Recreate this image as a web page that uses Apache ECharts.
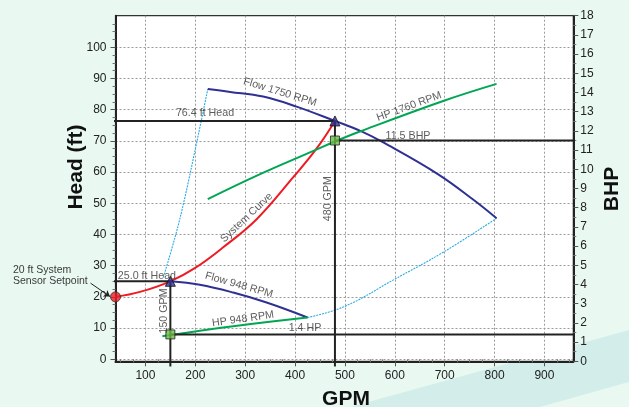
<!DOCTYPE html>
<html><head><meta charset="utf-8">
<script src="https://cdn.jsdelivr.net/npm/echarts@6/dist/echarts.min.js"></script>
<style>html,body{margin:0;padding:0;background:#e9f9f2;}#c{width:629px;height:407px;}</style>
</head><body><div id="c"></div>
<script>
// ---------- data ----------
const xTicks = [100,200,300,400,500,600,700,800,900];
const xMinorTicks = [50,75,125,150,175,225,250,275,325,350,375,425,450,475,525,550,575,625,650,675,725,750,775,825,850,875,925,950];
const headTicks = [0,10,20,30,40,50,60,70,80,90,100];
const headMinorTicks = [2.5,5,7.5,12.5,15,17.5,22.5,25,27.5,32.5,35,37.5,42.5,45,47.5,52.5,55,57.5,62.5,65,67.5,72.5,75,77.5,82.5,85,87.5,92.5,95,97.5,102.5,105,107.5];

const sysGpm  = [40, 89, 150, 199, 256, 323, 396, 443, 480];
const sysHead = [20, 21.6, 25, 29.2, 35.9, 44.9, 58.3, 67.5, 76.4];

const flow1750Gpm  = [225, 270, 336, 403, 480, 531, 577, 687, 757, 804];
const flow1750Head = [86.6, 85.7, 84.2, 81.0, 76.4, 73.2, 69.5, 59.3, 51.2, 45.2];

const flow948Gpm  = [150, 209, 276, 343, 425];
const flow948Head = [25.0, 23.9, 21.4, 18.2, 13.4];

const hp1760Gpm = [225, 330, 437, 480, 530, 697, 804];
const hp1760Bhp = [8.45, 9.75, 10.96, 11.45, 11.97, 13.56, 14.45];

const hp948Gpm = [134, 150, 280, 425];
const hp948Bhp = [1.30, 1.37, 1.84, 2.28];

const affLowGpm  = [136, 160, 178, 206, 225];
const affLowHead = [26.3, 39.5, 51.1, 71.9, 86.6];
const affHighGpm  = [425, 499, 599, 699, 804];
const affHighHead = [13.4, 16.9, 25.6, 34.5, 45.2];

const opGpm  = [150, 480];
const opHead = [25.0, 76.4];
const opBhp  = [1.4, 11.5];
const setpointGpm = 40, setpointHead = 20;

// guide line extents (data units)
const guideLeftGpm = [17, 15];
const guideRightGpm = [965, 975];
const guideBottomHead = -2.3;

// ---------- helpers ----------
const zip = (a, b) => a.map((v, i) => [v, b[i]]);
const font = 'Liberation Sans, Arial, sans-serif';
const NAVY = '#2e3192', RED = '#ed1c24', GREEN = '#00a651', LBLUE = '#29abe2', INK = '#222';

const curve = (name, data, color, yIdx, extra) => Object.assign({
  name, type: 'line', data, xAxisIndex: 0, yAxisIndex: yIdx, smooth: 0.4,
  showSymbol: false, symbol: 'none', lineStyle: { color, width: 2 }, z: 3, silent: true
}, extra || {});

const guide = (data, yIdx) => ({
  type: 'line', data, xAxisIndex: 0, yAxisIndex: yIdx, clip: false, showSymbol: false, symbol: 'none',
  lineStyle: { color: INK, width: 2 }, z: 4, silent: true
});

const annots = [
  { t: '76.4 ft Head', v: [219.5, 78.9], r: 0 },
  { t: '25.0 ft Head', v: [103, 26.7], r: 0 },
  { t: '11.5 BHP', v: [626.5, 71.6], r: 0 },
  { t: '1.4 HP', v: [420, 10.0], r: 0 },
  { t: '480 GPM', v: [467, 51.5], r: 90 },
  { t: '150 GPM', v: [137, 15.5], r: 90 },
  { t: 'Flow 1750 RPM', v: [370, 85.6], r: -17 },
  { t: 'HP 1760 RPM', v: [628.5, 81], r: 20 },
  { t: 'System Curve', v: [303, 45.4], r: 43 },
  { t: 'Flow 948 RPM', v: [287.6, 23.8], r: -16 },
  { t: 'HP 948 RPM', v: [295.6, 12.9], r: 8 }
];

const chart = echarts.init(document.getElementById('c'), null, { renderer: 'canvas' });
const option = {
  backgroundColor: '#e9f9f2',
  animation: false,
  textStyle: { fontFamily: font },
  grid: { left: 115.5, right: 55.7, top: 15.7, bottom: 45.7, show: true, backgroundColor: '#ffffff', borderColor: '#333', borderWidth: 1.2 },
  graphic: [
    { type: 'polygon', z: -10, silent: true, shape: { points: [[350,407],[629,330],[629,382],[540,407]] }, style: { fill: '#d3eeea' } },
    { type: 'text', x: 76, y: 167, rotation: Math.PI / 2, silent: true,
      style: { text: 'Head (ft)', font: 'bold 21px ' + font, fill: '#111', align: 'center', verticalAlign: 'middle' } },
    { type: 'text', x: 612, y: 189, rotation: Math.PI / 2, silent: true,
      style: { text: 'BHP', font: 'bold 21px ' + font, fill: '#111', align: 'center', verticalAlign: 'middle' } },
    { type: 'text', x: 346, y: 399, silent: true,
      style: { text: 'GPM', font: 'bold 21px ' + font, fill: '#111', align: 'center', verticalAlign: 'middle' } },
    { type: 'text', x: 13, y: 276, silent: true,
      style: { text: '20 ft System\nSensor Setpoint', font: '10.5px ' + font, lineHeight: 11, fill: '#3a3a3a', align: 'left', verticalAlign: 'middle' } }
  ],
  xAxis: [
    { type: 'value', min: 40, max: 957.9, position: 'bottom',
      axisLine: { show: true, onZero: false, lineStyle: { color: INK, width: 2 } },
      axisTick: { show: true, customValues: xTicks, length: 5, lineStyle: { color: '#555' } },
      axisLabel: { customValues: xTicks, margin: 8, fontSize: 12, color: INK, fontFamily: font },
      splitLine: { show: true, lineStyle: { color: '#9a9a9a', type: [2, 2], width: 1 } } },
    { type: 'value', min: 40, max: 957.9, position: 'bottom',
      axisLine: { show: false }, axisLabel: { show: false }, splitLine: { show: false },
      axisTick: { show: true, customValues: xMinorTicks, length: 3, lineStyle: { color: '#777' } } }
  ],
  yAxis: [
    { type: 'value', min: -0.64, max: 110.13, position: 'left',
      axisLine: { show: true, onZero: false, lineStyle: { color: INK, width: 2 } },
      axisTick: { show: true, customValues: headTicks, length: 5, lineStyle: { color: '#555' } },
      axisLabel: { customValues: headTicks, margin: 9, fontSize: 12, color: INK, fontFamily: font },
      splitLine: { show: true, lineStyle: { color: '#9a9a9a', type: [2, 2], width: 1 } } },
    { type: 'value', min: 0, max: 18, interval: 1, position: 'right',
      axisLine: { show: true, onZero: false, lineStyle: { color: INK, width: 2 } },
      axisTick: { show: true, length: 5, lineStyle: { color: '#555' } },
      minorTick: { show: true, splitNumber: 2, length: 3, lineStyle: { color: '#777' } },
      axisLabel: { margin: 7, fontSize: 12, color: INK, fontFamily: font },
      splitLine: { show: false } },
    { type: 'value', min: -0.64, max: 110.13, position: 'left',
      axisLine: { show: false }, axisLabel: { show: false }, splitLine: { show: false },
      axisTick: { show: true, customValues: headMinorTicks, length: 3, lineStyle: { color: '#777' } } }
  ],
  series: [
    curve('affLow', zip(affLowGpm, affLowHead), LBLUE, 0, { lineStyle: { color: LBLUE, width: 1.1, type: [2, 1] }, z: 2 }),
    curve('affHigh', zip(affHighGpm, affHighHead), LBLUE, 0, { lineStyle: { color: LBLUE, width: 1.1, type: [2, 1] }, z: 2 }),
    curve('System Curve', zip(sysGpm, sysHead), RED, 0),
    curve('Flow 1750 RPM', zip(flow1750Gpm, flow1750Head), NAVY, 0),
    curve('Flow 948 RPM', zip(flow948Gpm, flow948Head), NAVY, 0),
    curve('HP 1760 RPM', zip(hp1760Gpm, hp1760Bhp), GREEN, 1),
    curve('HP 948 RPM', zip(hp948Gpm, hp948Bhp), GREEN, 1),
    // guide lines
    guide([[guideLeftGpm[1], opHead[1]], [opGpm[1], opHead[1]]], 0),
    guide([[opGpm[1], opHead[1]], [opGpm[1], guideBottomHead]], 0),
    guide([[guideLeftGpm[0], opHead[0]], [opGpm[0], opHead[0]]], 0),
    guide([[opGpm[0], opHead[0]], [opGpm[0], guideBottomHead]], 0),
    guide([[opGpm[1], opBhp[1]], [guideRightGpm[1], opBhp[1]]], 1),
    guide([[opGpm[0], opBhp[0]], [guideRightGpm[0], opBhp[0]]], 1),
    // arrow to setpoint
    { type: 'lines', coordinateSystem: 'cartesian2d', xAxisIndex: 0, yAxisIndex: 0, clip: false, silent: true, z: 5,
      symbol: ['none', 'arrow'], symbolSize: 6,
      lineStyle: { color: INK, width: 1, opacity: 1 },
      data: [{ coords: [[-10, 24.4], [29, 20.1]] }] },
    // markers
    { type: 'scatter', xAxisIndex: 0, yAxisIndex: 0, clip: false, z: 6, silent: true,
      symbol: 'circle', symbolSize: 10, itemStyle: { color: RED, borderColor: '#333', borderWidth: 1 },
      data: [[setpointGpm, setpointHead]] },
    { type: 'scatter', xAxisIndex: 0, yAxisIndex: 0, clip: false, z: 6, silent: true,
      symbol: 'triangle', symbolSize: 10, itemStyle: { color: NAVY, borderColor: '#111', borderWidth: 1 },
      data: zip(opGpm, opHead) },
    { type: 'scatter', xAxisIndex: 0, yAxisIndex: 1, clip: false, z: 6, silent: true,
      symbol: 'rect', symbolSize: 9, itemStyle: { color: '#6abd45', borderColor: '#222', borderWidth: 1 },
      data: zip(opGpm, opBhp) },
    // text annotations
    { type: 'scatter', xAxisIndex: 0, yAxisIndex: 0, clip: false, z: 7, silent: true,
      symbolSize: 1, itemStyle: { color: 'rgba(0,0,0,0)' },
      label: { show: true, position: 'inside', fontSize: 10.7, color: '#333', fontFamily: font },
      data: annots.map(a => ({ value: a.v, label: { formatter: a.t, rotate: a.r } })) }
  ]
};
chart.setOption(option);
</script>
</body></html>
